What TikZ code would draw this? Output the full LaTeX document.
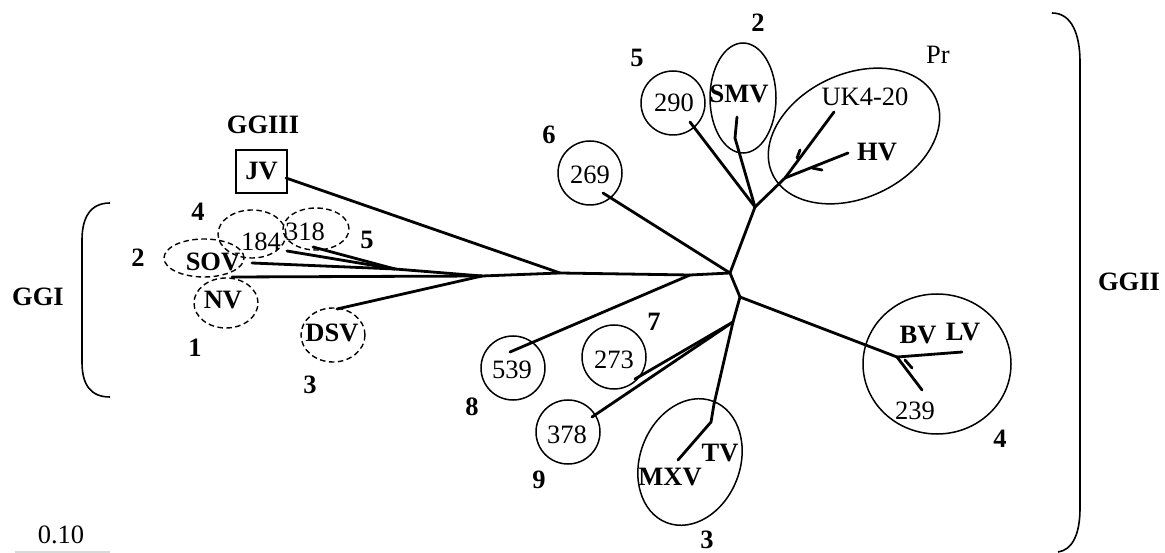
\documentclass[tikz,border=0pt]{standalone}
\usepackage{fontspec}
\setmainfont{Liberation Serif}
\begin{document}
\begin{tikzpicture}[x=1pt,y=-1pt,
  br/.style={line width=2.8pt, line cap=round, line join=round},
  ring/.style={line width=1.5pt},
  dring/.style={line width=1.4pt, dash pattern=on 5.5pt off 3.5pt},
  lab/.style={font=\fontsize{26.5}{30}\selectfont\bfseries, inner sep=0pt},
  txt/.style={font=\fontsize{26.5}{30}\selectfont, inner sep=0pt},
  brk/.style={line width=1.6pt}
]
\useasboundingbox (0,0) rectangle (1165,553);

% ---------- junctions ----------
\coordinate (jA) at (395,269);
\coordinate (jB) at (482,276);
\coordinate (jC) at (560,273);
\coordinate (jD) at (690,275);
\coordinate (hub) at (730,273);
\coordinate (jE) at (755,207);
\coordinate (jF) at (785,178);
\coordinate (jS) at (735,138);
\coordinate (jG) at (740,297);
\coordinate (jH) at (733,322);
\coordinate (jI) at (897,357);
\coordinate (jT) at (714,404);
\coordinate (jT2) at (711,422);

% ---------- leaf ends ----------
\coordinate (e184) at (287,251);
\coordinate (e318) at (313,247);
\coordinate (eSOV) at (252,263);
\coordinate (eNV) at (232,277);
\coordinate (eDSV) at (337,309);
\coordinate (eJV) at (286,178);
\coordinate (e539) at (510,352);
\coordinate (e269) at (603,193);
\coordinate (e290) at (690,122);
\coordinate (eSMV) at (737,117);
\coordinate (eUK) at (834,112);
\coordinate (eHV) at (848,153);
\coordinate (eLV) at (962,352);
\coordinate (e239) at (922,390);
\coordinate (e273) at (635,379);
\coordinate (e378) at (592,417);
\coordinate (eMXV) at (678,460);

% ---------- tree ----------
\draw[br] (e184) -- (jA);
\draw[br] (e318) -- (jA);
\draw[br] (eSOV) -- (jA);
\draw[br] (jA) -- (jB);
\draw[br] (eNV) -- (jB);
\draw[br] (eDSV) -- (jB);
\draw[br] (jB) -- (jC) -- (jD) -- (hub);
\draw[br] (eJV) -- (jC);
\draw[br] (e539) -- (jD);
\draw[br] (e269) -- (hub);
\draw[br] (hub) -- (jE);
\draw[br] (e290) -- (jE);
\draw[br] (eSMV) -- (jS) -- (jE);
\draw[br] (jE) -- (jF);
\draw[br] (jF) -- (eUK);
\draw[br] (jF) -- (eHV);
\draw[br] (hub) -- (jG);
\draw[br] (jG) -- (jI);
\draw[br] (jI) -- (eLV);
\draw[br] (jI) -- (e239);
\draw[br] (jG) -- (jH) -- (jT) -- (jT2) -- (eMXV);
\draw[br] (jH) -- (e273);
\draw[br] (jH) -- (e378);

% small barbs
\coordinate (bU1) at (800,150);
\coordinate (bU2) at (797,158);
\draw[br] (bU1) -- (bU2);
\coordinate (bH1) at (812,168);
\coordinate (bH2) at (822,170);
\draw[br] (bH1) -- (bH2);
\coordinate (bL1) at (905,360);
\coordinate (bL2) at (912,368);
\draw[br] (bL1) -- (bL2);

% ---------- GGI side ----------
\node[lab] (ggiii) at (263,125) {GGIII};
\node[lab, draw, line width=1.4pt, minimum width=51pt, minimum height=43pt] (jv) at (261.5,171.5) {JV};

\draw[dring] (252,234) ellipse[x radius=34pt, y radius=24pt];
\draw[dring] (316,229) ellipse[x radius=33pt, y radius=21pt];
\draw[dring] (204,258) ellipse[x radius=40pt, y radius=19pt];
\draw[dring] (226,303) ellipse[x radius=32pt, y radius=25pt];
\draw[dring] (333,335) ellipse[x radius=32pt, y radius=27pt];

\node[txt] (t184) at (261,242) {184};
\node[txt] (t318) at (305,232) {318};
\node[lab] (tSOV) at (213,262) {SOV};
\node[lab] (tNV) at (223,300) {NV};
\node[lab] (tDSV) at (332,333) {DSV};

\node[lab] (n4a) at (198,212) {4};
\node[lab] (n2a) at (138,258) {2};
\node[lab] (n5a) at (367,240) {5};
\node[lab] (n1a) at (195,348) {1};
\node[lab] (n3a) at (310,385) {3};
\node[lab] (ggi) at (38,297) {GGI};

\draw[brk] (110,203) .. controls (90,203) and (82,218) .. (82,240) -- (82,362) .. controls (82,384) and (90,397) .. (110,397);

% ---------- GGII side ----------
\draw[ring] (673,103) circle[radius=32pt];
\draw[ring] (590,173) circle[radius=32pt];
\draw[ring] (743,98) ellipse[x radius=33pt, y radius=55pt];
\draw[ring, rotate around={25:(854,136)}] (854,136) ellipse[x radius=90pt, y radius=62pt];
\draw[ring] (937,364) ellipse[x radius=74pt, y radius=70pt];
\draw[ring] (513,368) circle[radius=32pt];
\draw[ring] (614,357) circle[radius=32pt];
\draw[ring] (568,432) circle[radius=32pt];
\draw[ring, rotate around={-21:(690,462)}] (690,462) ellipse[x radius=50pt, y radius=65pt];

\node[txt] (t290) at (674,103) {290};
\node[txt] (t269) at (590,175) {269};
\node[lab] (tSMV) at (739,94) {SMV};
\node[txt] (tPr) at (938,55) {Pr};
\node[txt] (tUK) at (865,97) {UK4-20};
\node[lab] (tHV) at (877,152) {HV};
\node[lab] (tBV) at (918,335) {BV};
\node[lab] (tLV) at (963,332) {LV};
\node[txt] (t239) at (915,411) {239};
\node[txt] (t539) at (512,370) {539};
\node[txt] (t273) at (614,360) {273};
\node[txt] (t378) at (567,435) {378};
\node[lab] (tTV) at (720,453) {TV};
\node[lab] (tMXV) at (670,477) {MXV};

\node[lab] (n5b) at (637,58) {5};
\node[lab] (n2b) at (758,23) {2};
\node[lab] (n6) at (549,135) {6};
\node[lab] (n4b) at (1000,439) {4};
\node[lab] (n7) at (654,322) {7};
\node[lab] (n8) at (472,407) {8};
\node[lab] (n9) at (539,480) {9};
\node[lab] (n3b) at (707,540) {3};
\node[lab] (ggii) at (1129,282) {GGII};

\draw[brk] (1052,13) .. controls (1072,13) and (1080,35) .. (1080,62) -- (1080,508) .. controls (1080,535) and (1072,550) .. (1058,552);

% ---------- scale ----------
\node[txt] (scl) at (61,535) {0.10};
\coordinate (sb1) at (15,552);
\coordinate (sb2) at (110,552);
\draw[gray!30, line width=2pt] (sb1) -- (sb2);
\end{tikzpicture}
\end{document}
